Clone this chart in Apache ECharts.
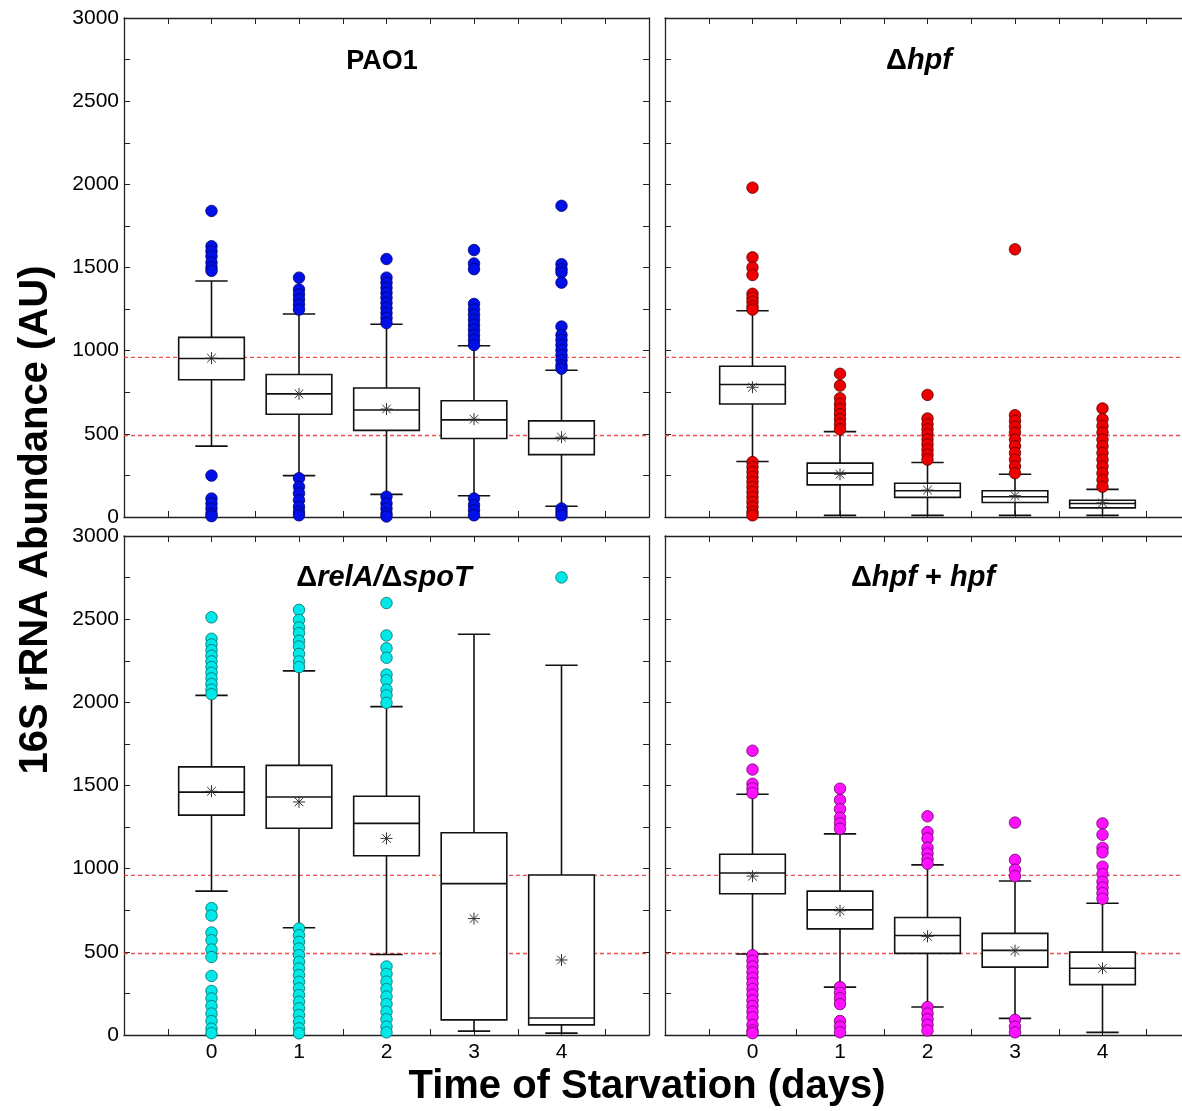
<!DOCTYPE html>
<html><head><meta charset="utf-8">
<script src="https://cdn.jsdelivr.net/npm/echarts@6/dist/echarts.min.js"></script>
<style>html,body{margin:0;padding:0;background:#fff}#c{width:1182px;height:1111px}</style>
</head><body><div id="c"></div>
<script>
// ---------- data ----------
const days = [0, 1, 2, 3, 4];
const refLines = [960, 490];
const yTickLabels = ['0', '500', '1000', '1500', '2000', '2500', '3000'];

// box stats: [lower whisker, Q1, median, Q3, upper whisker]
const pao1Box = [[426, 825, 953, 1080, 1419], [249, 618, 740, 857, 1220], [136, 521, 643, 776, 1159], [128, 472, 584, 699, 1030], [65, 375, 472, 578, 882]];
const pao1Mean = [955, 740, 649, 588, 480];
const pao1Out = [
  [1840, 1628, 1597, 1567, 1530, 1500, 1480, 249, 111, 81, 51, 20, 5],
  [1439, 1368, 1338, 1307, 1277, 1247, 233, 182, 142, 101, 61, 30, 10],
  [1551, 1439, 1409, 1378, 1348, 1318, 1287, 1257, 1226, 1196, 1166, 122, 81, 51, 20, 3],
  [1605, 1524, 1490, 1281, 1247, 1216, 1186, 1155, 1125, 1094, 1064, 1034, 111, 71, 41, 10],
  [1871, 1520, 1490, 1470, 1409, 1145, 1094, 1064, 1034, 1003, 973, 943, 912, 892, 51, 30, 10]
];

const hpfBox = [[334, 679, 797, 906, 1240], [10, 193, 264, 324, 513], [10, 118, 158, 203, 328], [10, 87, 122, 158, 257], [10, 55, 81, 101, 166]];
const hpfMean = [780, 257, 162, 128, 85];
const hpfOut = [
  [1980, 1561, 1500, 1455, 1342, 1318, 1295, 1267, 1247, 330, 300, 270, 240, 210, 180, 150, 120, 90, 60, 30, 10],
  [861, 790, 714, 679, 649, 618, 588, 557, 527],
  [734, 592, 557, 527, 497, 466, 436, 405, 375, 345],
  [1609, 612, 578, 543, 507, 466, 426, 385, 345, 304, 263],
  [653, 588, 547, 507, 466, 426, 385, 345, 304, 263, 223, 182]
];

const relBox = [[865, 1322, 1460, 1612, 2042], [645, 1243, 1431, 1621, 2189], [484, 1078, 1272, 1435, 1974], [23, 91, 910, 1216, 2409], [11, 61, 102, 962, 2223]];
const relMean = [1465, 1401, 1182, 700, 451];
const relOut = [
  [2511, 2382, 2348, 2314, 2280, 2246, 2212, 2178, 2144, 2110, 2076, 2049, 763, 718, 616, 570, 514, 469, 355, 265, 220, 174, 129, 84, 38, 11],
  [2556, 2495, 2450, 2416, 2370, 2336, 2291, 2246, 2212, 640, 600, 560, 520, 480, 440, 400, 360, 320, 280, 240, 200, 160, 120, 80, 40, 10],
  [2597, 2402, 2325, 2268, 2167, 2133, 2076, 2042, 1997, 412, 367, 321, 276, 231, 186, 140, 95, 50, 16],
  [],
  [2751]
];

const compBox = [[487, 849, 974, 1087, 1447], [288, 638, 752, 865, 1209], [168, 491, 598, 706, 1023], [100, 408, 509, 611, 926], [16, 303, 401, 498, 792]];
const compMean = [955, 747, 593, 507, 401];
const compOut = [
  [1709, 1596, 1510, 1483, 1454, 480, 446, 412, 378, 344, 310, 276, 242, 208, 174, 140, 106, 61, 27, 11],
  [1481, 1413, 1358, 1306, 1272, 1240, 288, 254, 220, 186, 84, 50, 16],
  [1315, 1220, 1182, 1125, 1091, 1057, 1030, 168, 129, 95, 61, 27],
  [1277, 1053, 994, 955, 91, 50, 16],
  [1272, 1204, 1125, 1098, 1012, 967, 921, 887, 853, 819]
];

// ---------- layout / style ----------
const FONT = '"Liberation Sans", Arial, Helvetica, sans-serif';
const panels = [
  { box: pao1Box, mean: pao1Mean, out: pao1Out, fill: '#0010e6', edge: '#00006e', grid: { left: 124, top: 18, width: 525, height: 499 }, xl: false, yl: true },
  { box: hpfBox, mean: hpfMean, out: hpfOut, fill: '#ee0000', edge: '#5a0000', grid: { left: 665, top: 18, width: 525, height: 499 }, xl: false, yl: false },
  { box: relBox, mean: relMean, out: relOut, fill: '#00e8e8', edge: '#006a6a', grid: { left: 124, top: 536, width: 525, height: 499 }, xl: true, yl: true },
  { box: compBox, mean: compMean, out: compOut, fill: '#ff10ff', edge: '#6a006a', grid: { left: 665, top: 536, width: 525, height: 499 }, xl: true, yl: false }
];

const LC = '#222';
function xAx(g, pos, showLabel) {
  return {
    type: 'value', gridIndex: g, position: pos, min: -1, max: 5, interval: 1,
    axisLine: { show: true, onZero: false, lineStyle: { color: LC, width: 1.3 } },
    axisTick: { show: true, inside: true, length: 6, lineStyle: { color: LC, width: 1 } },
    minorTick: { show: true, splitNumber: 2, length: 6, lineStyle: { color: LC, width: 1 } },
    splitLine: { show: false }, minorSplitLine: { show: false },
    axisLabel: { show: showLabel, margin: 7, fontSize: 21, color: '#000', fontFamily: FONT,
      formatter: v => days.includes(v) ? String(v) : '' }
  };
}
function yAx(g, pos, showLabel) {
  return {
    type: 'value', gridIndex: g, position: pos, min: 0, max: 3000, interval: 500,
    axisLine: { show: true, onZero: false, lineStyle: { color: LC, width: 1.3 } },
    axisTick: { show: true, inside: true, length: 6, lineStyle: { color: LC, width: 1 } },
    minorTick: { show: true, splitNumber: 2, length: 6, lineStyle: { color: LC, width: 1 } },
    splitLine: { show: false }, minorSplitLine: { show: false },
    axisLabel: { show: showLabel, margin: 5, fontSize: 21, color: '#000', fontFamily: FONT,
      formatter: v => yTickLabels[Math.round(v / 500)] }
  };
}

function renderBox(params, api) {
  const x = api.value(0);
  const P = v => api.coord([x, v]);
  const lo = P(api.value(1)), q1 = P(api.value(2)), md = P(api.value(3)), q3 = P(api.value(4)), hi = P(api.value(5)), mn = P(api.value(6));
  const bw = api.size([0.75, 0])[0];
  const cw = api.size([0.37, 0])[0];
  const cx = lo[0];
  const st = { stroke: '#111', lineWidth: 1.6, fill: null };
  const as = { stroke: '#333', lineWidth: 1, fill: null };
  const r = 6, d = 4.3, my = mn[1];
  return {
    type: 'group', children: [
      { type: 'line', shape: { x1: cx, y1: hi[1], x2: cx, y2: q3[1] }, style: st },
      { type: 'line', shape: { x1: cx, y1: q1[1], x2: cx, y2: lo[1] }, style: st },
      { type: 'line', shape: { x1: cx - cw / 2, y1: hi[1], x2: cx + cw / 2, y2: hi[1] }, style: st },
      { type: 'line', shape: { x1: cx - cw / 2, y1: lo[1], x2: cx + cw / 2, y2: lo[1] }, style: st },
      { type: 'rect', shape: { x: cx - bw / 2, y: q3[1], width: bw, height: q1[1] - q3[1] }, style: { fill: '#fff', stroke: '#111', lineWidth: 1.6 } },
      { type: 'line', shape: { x1: cx - bw / 2, y1: md[1], x2: cx + bw / 2, y2: md[1] }, style: st },
      { type: 'line', shape: { x1: cx, y1: my - r, x2: cx, y2: my + r }, style: as },
      { type: 'line', shape: { x1: cx - r, y1: my, x2: cx + r, y2: my }, style: as },
      { type: 'line', shape: { x1: cx - d, y1: my - d, x2: cx + d, y2: my + d }, style: as },
      { type: 'line', shape: { x1: cx - d, y1: my + d, x2: cx + d, y2: my - d }, style: as }
    ]
  };
}

const grid = [], xAxis = [], yAxis = [], series = [];
panels.forEach((p, i) => {
  grid.push(Object.assign({ outerBoundsMode: 'none', containLabel: false }, p.grid));
  xAxis.push(xAx(i, 'bottom', p.xl), xAx(i, 'top', false));
  yAxis.push(yAx(i, 'left', p.yl), yAx(i, 'right', false));
  const xi = 2 * i, yi = 2 * i;
  refLines.forEach(v => {
    series.push({
      type: 'line', xAxisIndex: xi, yAxisIndex: yi, data: [[-1, v], [5, v]], symbol: 'none', silent: true, z: 1,
      lineStyle: { color: '#f03c3c', width: 1.3, type: [4, 3], opacity: 0.9 }
    });
  });
  series.push({
    type: 'custom', xAxisIndex: xi, yAxisIndex: yi, z: 2, silent: true,
    renderItem: renderBox,
    encode: { x: 0, y: [1, 2, 3, 4, 5, 6] },
    data: days.map((d, k) => [d, ...p.box[k], p.mean[k]])
  });
  const pts = [];
  days.forEach((d, k) => p.out[k].forEach(v => pts.push([d, v])));
  series.push({
    type: 'scatter', xAxisIndex: xi, yAxisIndex: yi, z: 3, silent: true,
    symbol: 'circle', symbolSize: 11.5, data: pts,
    itemStyle: { color: p.fill, borderColor: p.edge, borderWidth: 0.8, opacity: 1 }
  });
});

const titleRich = {
  u: { fontFamily: FONT, fontWeight: 'bold', fontSize: 29, color: '#000' },
  i: { fontFamily: FONT, fontWeight: 'bold', fontStyle: 'italic', fontSize: 29, color: '#000' },
  p: { fontFamily: FONT, fontWeight: 'bold', fontSize: 27, color: '#000' }
};
function ttl(x, y, text) {
  return { type: 'text', x: x, y: y, z: 10,
    style: { text: text, rich: titleRich, align: 'center', verticalAlign: 'middle', textAlign: 'center', textVerticalAlign: 'middle' } };
}

const chart = echarts.init(document.getElementById('c'), null, { renderer: 'canvas' });
chart.setOption({
  animation: false,
  backgroundColor: '#fff',
  grid, xAxis, yAxis, series,
  graphic: [
    ttl(382, 62, '{p|PAO1}'),
    ttl(919, 61, '{u|Δ}{i|hpf}'),
    ttl(384, 578, '{u|Δ}{i|relA/}{u|Δ}{i|spoT}'),
    ttl(923, 578, '{u|Δ}{i|hpf}{u| + }{i|hpf}'),
    { type: 'text', x: 36, y: 520, rotation: Math.PI / 2, z: 10,
      style: { text: '16S rRNA Abundance (AU)', font: 'bold 40px ' + FONT, fill: '#000', align: 'center', verticalAlign: 'middle', textAlign: 'center', textVerticalAlign: 'middle' } },
    { type: 'text', x: 647, y: 1087, z: 10,
      style: { text: 'Time of Starvation (days)', font: 'bold 40px ' + FONT, fill: '#000', align: 'center', verticalAlign: 'middle', textAlign: 'center', textVerticalAlign: 'middle' } }
  ]
});
</script>
</body></html>
